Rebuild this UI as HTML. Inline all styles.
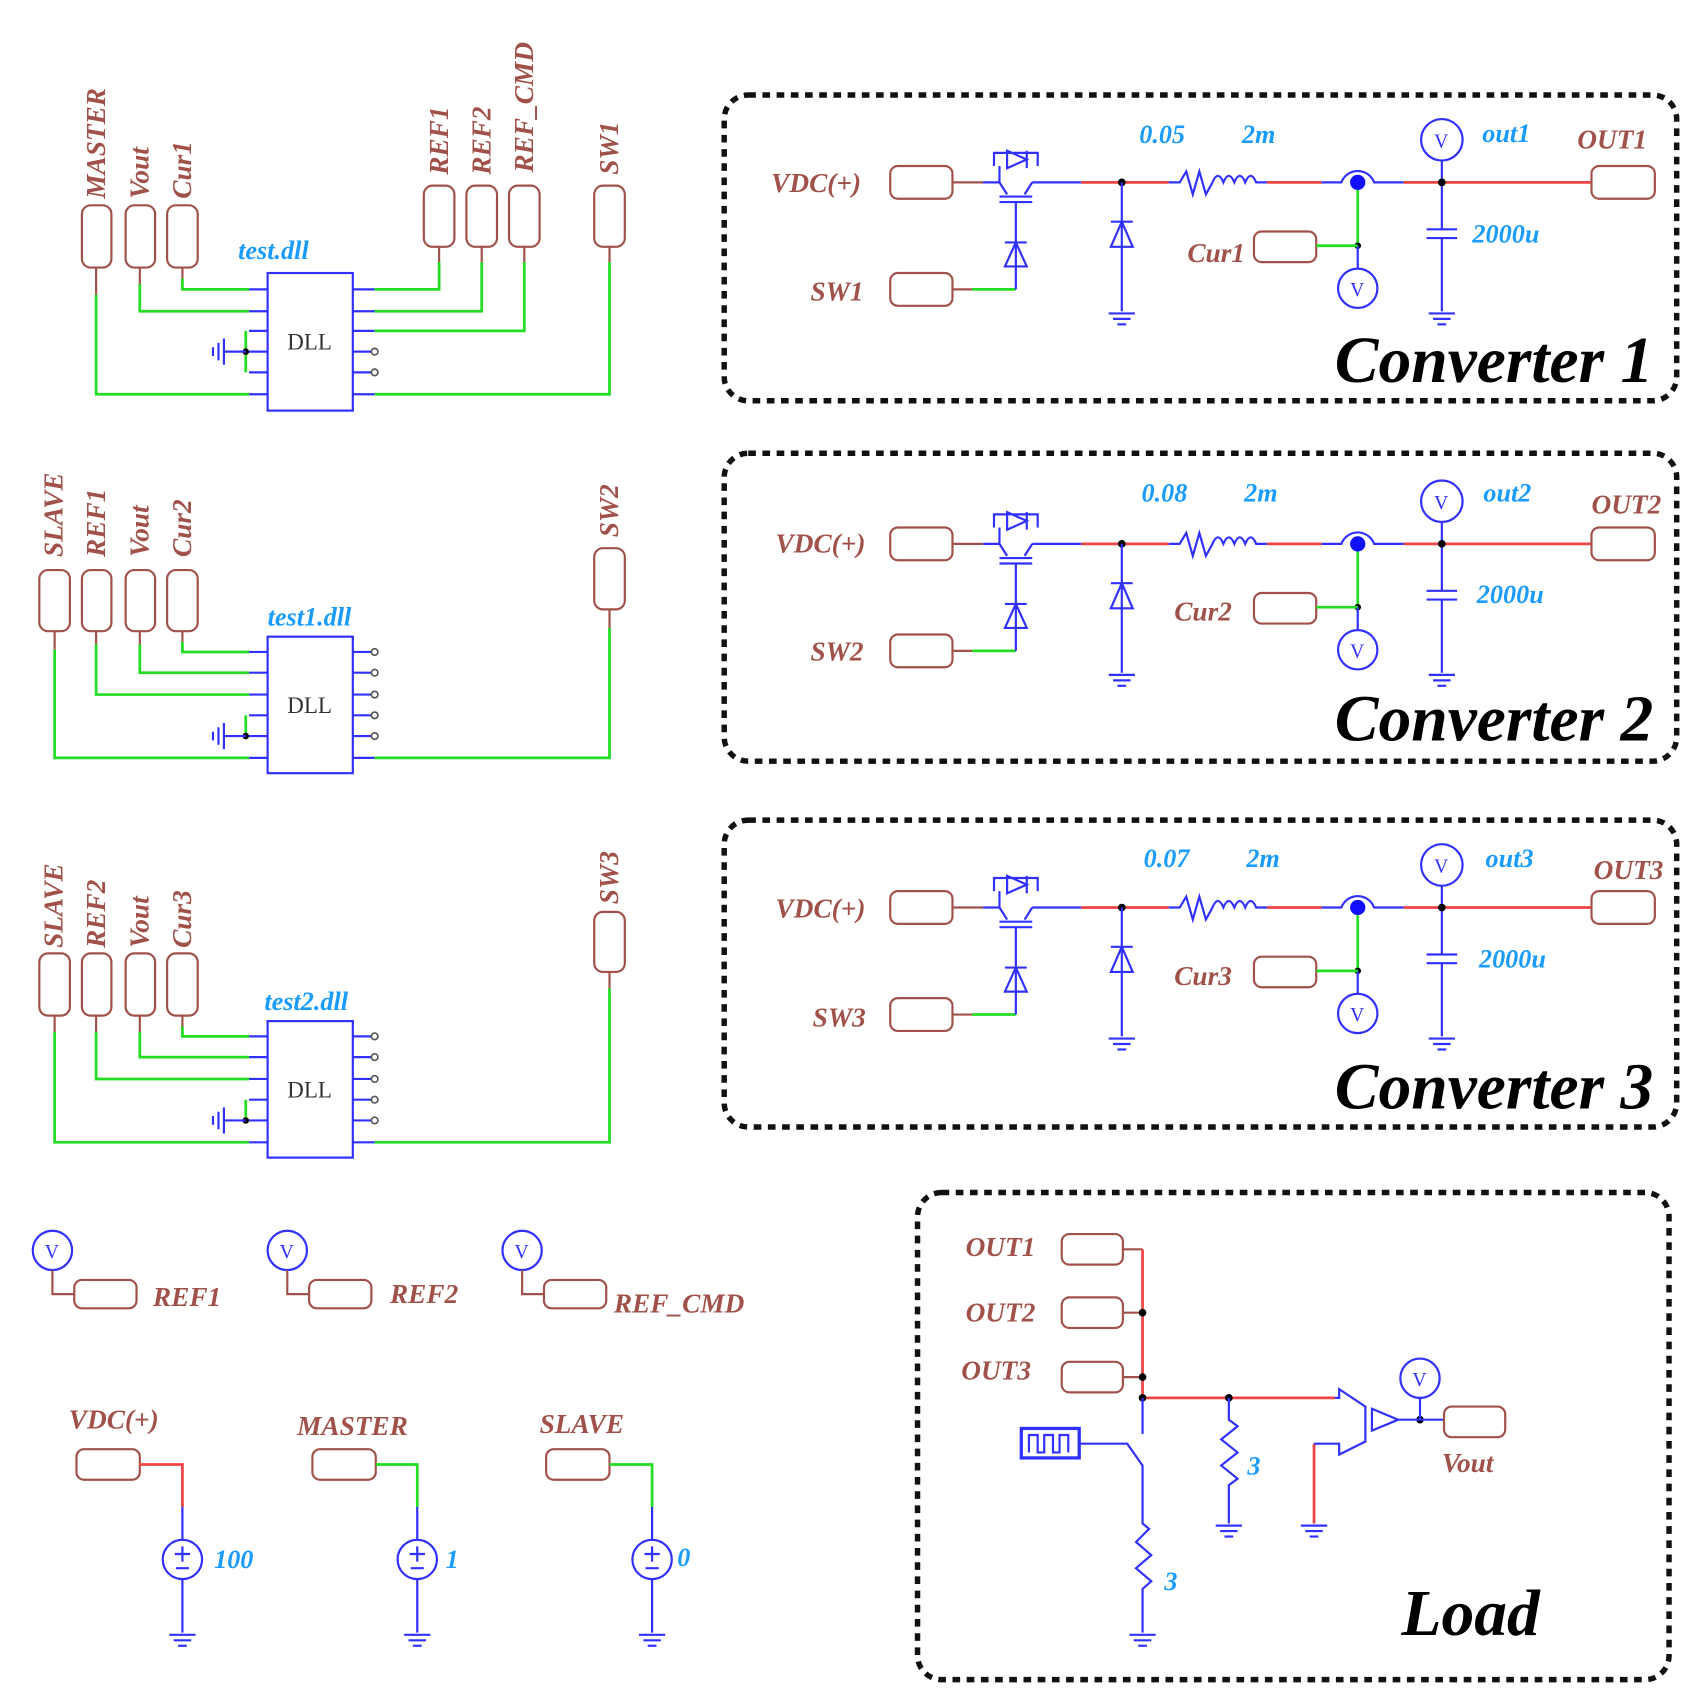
<!DOCTYPE html>
<html><head><meta charset="utf-8"><style>
html,body{margin:0;padding:0;background:#fff;}
svg{display:block;}
.lb{font-family:"Liberation Serif",serif;font-weight:bold;font-style:italic;fill:#a0524a;font-size:25px;}
.cy{font-family:"Liberation Serif",serif;font-weight:bold;font-style:italic;fill:#1a9cff;font-size:24px;}
.big{font-family:"Liberation Serif",serif;font-weight:bold;font-style:italic;fill:#000;font-size:60px;}
.pb{fill:#fff;stroke:#a0524a;stroke-width:2;}
.bl{stroke:#3030ff;stroke-width:2;fill:none;}
.gr{stroke:#22dd22;stroke-width:2.5;fill:none;}
.rd{stroke:#ee4444;stroke-width:2.5;fill:none;}
.br{stroke:#a0524a;stroke-width:2;fill:none;}
.vt{font-family:"Liberation Serif",serif;fill:#3030ff;font-size:18px;}
.dll{font-family:"Liberation Serif",serif;fill:#333;font-size:21px;}
.dash{fill:none;stroke:#111;stroke-width:5;stroke-dasharray:7,6;}
</style></head><body>
<svg width="1704" height="1708" viewBox="0 0 1560 1564" preserveAspectRatio="none" xmlns="http://www.w3.org/2000/svg">
<defs>
<g id="gnd" class="bl"><line x1="-12" y1="0" x2="12" y2="0"/><line x1="-8" y1="5" x2="8" y2="5"/><line x1="-4" y1="10" x2="4" y2="10"/></g>
<g id="gndL" class="bl"><line x1="0" y1="-12" x2="0" y2="12"/><line x1="-5" y1="-8" x2="-5" y2="8"/><line x1="-10" y1="-4" x2="-10" y2="4"/></g>
<g id="conv">
  <rect class="pb" x="815" y="152" width="57" height="30" rx="7"/>
  <rect class="pb" x="815" y="250" width="57" height="30" rx="7"/>
  <line class="br" x1="872" y1="167" x2="900" y2="167"/>
  <line class="br" x1="872" y1="265" x2="890" y2="265"/>
  <line class="gr" x1="890" y1="265" x2="930" y2="265"/>
  <path class="bl" d="M900 167 H915 V152 M915 167 L922 178 M945 167 L938 178 M945 167 H990 M915 180 H945 M915 185 H945 M930 185 V265 M910 152 V140 H950 V152 M922 138 L940 146 L922 154 Z M940 138 V154"/>
  <path class="bl" d="M930 222 L920 244 H940 Z M920 222 H940"/>
  <line class="rd" x1="990" y1="167" x2="1070" y2="167"/>
  <circle cx="1027" cy="167" r="3.5" fill="#000"/>
  <path class="bl" d="M1027 167 V285 M1017 203 H1037 M1027 203 L1017 226 H1037 Z"/>
  <use href="#gnd" x="1027" y="287"/>
  <path class="bl" d="M1070 167 H1080 L1086 157 L1092 178 L1098 157 L1104 178 L1110 167 Q1115 155 1120 167 Q1125 155 1130 167 Q1135 155 1140 167 Q1145 155 1150 167 H1160"/>
  <line class="rd" x1="1160" y1="167" x2="1210" y2="167"/>
  <path class="bl" d="M1210 167 H1228 A16 16 0 0 1 1258 167 H1285"/>
  <circle cx="1243" cy="167" r="7" fill="#1010ff"/>
  <line class="rd" x1="1285" y1="167" x2="1457" y2="167"/>
  <line class="gr" x1="1243" y1="174" x2="1243" y2="225"/>
  <circle cx="1243" cy="225" r="3" fill="#000"/>
  <line class="bl" x1="1243" y1="225" x2="1243" y2="246"/>
  <circle class="bl" cx="1243" cy="264" r="18"/>
  <text class="vt" x="1236" y="271">V</text>
  <rect class="pb" x="1148" y="212" width="57" height="28" rx="7"/>
  <line class="gr" x1="1205" y1="225" x2="1243" y2="225"/>
  <circle class="bl" cx="1320" cy="128" r="19"/>
  <text class="vt" x="1313" y="135">V</text>
  <path class="bl" d="M1320 147 V167 M1320 167 V210 M1306 210 H1334 M1306 218 H1334 M1320 218 V285"/>
  <circle cx="1320" cy="167" r="3.5" fill="#000"/>
  <use href="#gnd" x="1320" y="287"/>
  <rect class="pb" x="1457" y="152" width="58" height="30" rx="7"/>
</g>
<g id="src"><circle class="bl" cx="0" cy="0" r="18"/><path class="bl" d="M-7 -5 H7 M0 -12 V2 M-6 8 H6"/></g>
<g id="vm"><circle class="bl" cx="0" cy="0" r="18"/><text class="vt" x="-7" y="7">V</text></g>
</defs>

<rect class="pb" x="75" y="188" width="27" height="57" rx="8"/>
<rect class="pb" x="115" y="188" width="27" height="57" rx="8"/>
<rect class="pb" x="153" y="188" width="28" height="57" rx="8"/>
<rect class="pb" x="388" y="170" width="28" height="56" rx="8"/>
<rect class="pb" x="427" y="170" width="28" height="56" rx="8"/>
<rect class="pb" x="466" y="170" width="28" height="56" rx="8"/>
<rect class="pb" x="544" y="170" width="28" height="56" rx="8"/>
<text class="lb" transform="translate(96,182) rotate(-90)">MASTER</text>
<text class="lb" transform="translate(136,182) rotate(-90)">Vout</text>
<text class="lb" transform="translate(175,182) rotate(-90)">Cur1</text>
<text class="lb" transform="translate(410,160) rotate(-90)">REF1</text>
<text class="lb" transform="translate(449,160) rotate(-90)">REF2</text>
<text class="lb" transform="translate(488,158) rotate(-90)">REF_CMD</text>
<text class="lb" transform="translate(566,160) rotate(-90)">SW1</text>
<text class="cy" x="218" y="237">test.dll</text>
<rect x="245" y="250" width="78" height="126" fill="#fff" stroke="#3030ff" stroke-width="2"/>
<text class="dll" x="263" y="320">DLL</text>
<path class="bl" d="M228 265H245M228 285H245M228 303H245M228 322H245M228 341H245M228 361H245M323 265H343M323 285H343M323 303H343M323 322H340M323 341H340M323 361H343"/>
<circle cx="343" cy="322" r="3" fill="none" stroke="#555" stroke-width="1.5"/><circle cx="343" cy="341" r="3" fill="none" stroke="#555" stroke-width="1.5"/>
<path class="br" d="M88 245V270M128 245V260M167 245V255M402 226V240M441 226V240M480 226V240M558 226V240"/>
<path class="gr" d="M167 255V265H228M128 260V285H228M88 270V361H228M402 240V265H343M441 240V285H343M480 240V303H343M558 240V361H343M225 303V341"/>
<circle cx="225" cy="322" r="3" fill="#000"/>
<line class="bl" x1="205" y1="322" x2="225" y2="322"/>
<use href="#gndL" x="205" y="322"/>

<rect class="pb" x="36" y="522" width="28" height="56" rx="8"/>
<rect class="pb" x="75" y="522" width="27" height="56" rx="8"/>
<rect class="pb" x="115" y="522" width="27" height="56" rx="8"/>
<rect class="pb" x="153" y="522" width="28" height="56" rx="8"/>
<rect class="pb" x="544" y="502" width="28" height="56" rx="8"/>
<text class="lb" transform="translate(57,510) rotate(-90)">SLAVE</text>
<text class="lb" transform="translate(96,510) rotate(-90)">REF1</text>
<text class="lb" transform="translate(136,510) rotate(-90)">Vout</text>
<text class="lb" transform="translate(175,510) rotate(-90)">Cur2</text>
<text class="lb" transform="translate(566,492) rotate(-90)">SW2</text>
<text class="cy" x="245" y="573">test1.dll</text>
<rect x="245" y="583" width="78" height="125" fill="#fff" stroke="#3030ff" stroke-width="2"/>
<text class="dll" x="263" y="653">DLL</text>
<path class="bl" d="M228 597H245M228 616H245M228 636H245M228 655H245M228 674H245M228 694H245M323 597H340M323 616H340M323 636H340M323 655H340M323 674H340M323 694H343"/>
<g fill="none" stroke="#555" stroke-width="1.5"><circle cx="343" cy="597" r="3"/><circle cx="343" cy="616" r="3"/><circle cx="343" cy="636" r="3"/><circle cx="343" cy="655" r="3"/><circle cx="343" cy="674" r="3"/></g>
<path class="br" d="M50 578V595M88 578V590M128 578V590M167 578V588M558 558V575"/>
<path class="gr" d="M167 588V597H228M128 590V616H228M88 590V636H228M50 595V694H228M558 575V694H343M225 655V674"/>
<circle cx="225" cy="674" r="3" fill="#000"/>
<line class="bl" x1="205" y1="674" x2="225" y2="674"/>
<use href="#gndL" x="205" y="674"/>

<rect class="pb" x="36" y="873" width="28" height="57" rx="8"/>
<rect class="pb" x="75" y="873" width="27" height="57" rx="8"/>
<rect class="pb" x="115" y="873" width="27" height="57" rx="8"/>
<rect class="pb" x="153" y="873" width="28" height="57" rx="8"/>
<rect class="pb" x="544" y="835" width="28" height="55" rx="8"/>
<text class="lb" transform="translate(57,868) rotate(-90)">SLAVE</text>
<text class="lb" transform="translate(96,868) rotate(-90)">REF2</text>
<text class="lb" transform="translate(136,868) rotate(-90)">Vout</text>
<text class="lb" transform="translate(175,868) rotate(-90)">Cur3</text>
<text class="lb" transform="translate(566,828) rotate(-90)">SW3</text>
<text class="cy" x="242" y="925">test2.dll</text>
<rect x="245" y="935" width="78" height="125" fill="#fff" stroke="#3030ff" stroke-width="2"/>
<text class="dll" x="263" y="1005">DLL</text>
<path class="bl" d="M228 949H245M228 968H245M228 988H245M228 1007H245M228 1026H245M228 1046H245M323 949H340M323 968H340M323 988H340M323 1007H340M323 1026H340M323 1046H343"/>
<g fill="none" stroke="#555" stroke-width="1.5"><circle cx="343" cy="949" r="3"/><circle cx="343" cy="968" r="3"/><circle cx="343" cy="988" r="3"/><circle cx="343" cy="1007" r="3"/><circle cx="343" cy="1026" r="3"/></g>
<path class="br" d="M50 930V945M88 930V945M128 930V945M167 930V940M558 890V905"/>
<path class="gr" d="M167 940V949H228M128 945V968H228M88 945V988H228M50 945V1046H228M558 905V1046H343M225 1007V1026"/>
<circle cx="225" cy="1026" r="3" fill="#000"/>
<line class="bl" x1="205" y1="1026" x2="225" y2="1026"/>
<use href="#gndL" x="205" y="1026"/>

<rect class="dash" x="663" y="87" width="872" height="280" rx="22"/>
<rect class="dash" x="663" y="415" width="872" height="282" rx="22"/>
<rect class="dash" x="663" y="751" width="872" height="281" rx="22"/>
<use href="#conv"/>
<use href="#conv" y="331"/>
<use href="#conv" y="664"/>
<text class="lb" x="706" y="176">VDC(+)</text><text class="lb" x="742" y="275">SW1</text>
<text class="cy" x="1043" y="131">0.05</text><text class="cy" x="1137" y="131">2m</text>
<text class="lb" x="1087" y="240">Cur1</text>
<text class="cy" x="1357" y="130">out1</text><text class="lb" x="1444" y="136">OUT1</text>
<text class="cy" x="1348" y="222">2000u</text>
<text class="big" x="1222" y="350">Converter 1</text>

<text class="lb" x="710" y="506">VDC(+)</text><text class="lb" x="742" y="605">SW2</text>
<text class="cy" x="1045" y="459">0.08</text><text class="cy" x="1139" y="459">2m</text>
<text class="lb" x="1075" y="568">Cur2</text>
<text class="cy" x="1358" y="459">out2</text><text class="lb" x="1457" y="470">OUT2</text>
<text class="cy" x="1352" y="552">2000u</text>
<text class="big" x="1222" y="678">Converter 2</text>

<text class="lb" x="710" y="840">VDC(+)</text><text class="lb" x="744" y="940">SW3</text>
<text class="cy" x="1047" y="794">0.07</text><text class="cy" x="1141" y="794">2m</text>
<text class="lb" x="1075" y="902">Cur3</text>
<text class="cy" x="1360" y="794">out3</text><text class="lb" x="1459" y="805">OUT3</text>
<text class="cy" x="1354" y="886">2000u</text>
<text class="big" x="1222" y="1015">Converter 3</text>

<rect class="dash" x="840" y="1092" width="688" height="446" rx="22"/>
<text class="lb" x="884" y="1150">OUT1</text>
<text class="lb" x="884" y="1210">OUT2</text>
<text class="lb" x="880" y="1263">OUT3</text>
<rect class="pb" x="972" y="1130" width="56" height="28" rx="7"/>
<rect class="pb" x="972" y="1188" width="56" height="28" rx="7"/>
<rect class="pb" x="972" y="1247" width="56" height="28" rx="7"/>
<path class="br" d="M1028 1144H1046M1028 1202H1046M1028 1261H1046"/>
<path class="rd" d="M1046 1144V1280H1222M1203 1322V1395"/>
<g fill="#000"><circle cx="1046" cy="1202" r="3.5"/><circle cx="1046" cy="1261" r="3.5"/><circle cx="1046" cy="1280" r="3.5"/><circle cx="1125" cy="1280" r="3.5"/><circle cx="1300" cy="1300" r="3.5"/></g>
<path class="bl" d="M1046 1280V1313M988 1322H1032L1046 1342V1395L1052 1400L1040 1412L1054 1424L1040 1436L1054 1448L1046 1455V1495"/>
<use href="#gnd" x="1046" y="1497"/>
<rect x="935" y="1308" width="53" height="27" fill="#fff" stroke="#3030ff" stroke-width="3"/>
<path class="bl" d="M942 1330V1314H950V1330H956V1314H964V1330H970V1314H978V1330"/>
<path class="bl" d="M1125 1280V1300L1133 1306L1118 1318L1133 1330L1118 1342L1133 1354L1125 1360V1395"/>
<use href="#gnd" x="1125" y="1397"/>
<path class="bl" d="M1222 1280H1226V1272L1250 1288V1320L1226 1332V1322H1203"/>
<use href="#gnd" x="1203" y="1397"/>
<path class="bl" d="M1256 1290L1280 1300L1256 1310Z M1280 1300H1322 M1300 1300V1280"/>
<use href="#vm" x="1300" y="1262"/>
<rect class="pb" x="1322" y="1288" width="56" height="28" rx="7"/>
<text class="lb" x="1320" y="1348">Vout</text>
<text class="cy" x="1142" y="1350">3</text>
<text class="cy" x="1066" y="1456">3</text>
<text class="big" x="1283" y="1497">Load</text>

<use href="#vm" x="48" y="1145"/><path class="br" d="M48 1163V1185H68"/>
<rect class="pb" x="68" y="1172" width="57" height="26" rx="7"/>
<text class="lb" x="140" y="1196">REF1</text>
<use href="#vm" x="263" y="1145"/><path class="br" d="M263 1163V1185H283"/>
<rect class="pb" x="283" y="1172" width="57" height="26" rx="7"/>
<text class="lb" x="357" y="1193">REF2</text>
<use href="#vm" x="478" y="1145"/><path class="br" d="M478 1163V1185H498"/>
<rect class="pb" x="498" y="1172" width="57" height="26" rx="7"/>
<text class="lb" x="562" y="1202">REF_CMD</text>

<text class="lb" x="63" y="1308">VDC(+)</text>
<rect class="pb" x="70" y="1327" width="58" height="28" rx="7"/>
<path class="rd" d="M128 1341H167V1380"/><path class="bl" d="M167 1380V1410M167 1446V1495"/>
<use href="#src" x="167" y="1428"/><use href="#gnd" x="167" y="1497"/>
<text class="cy" x="196" y="1436">100</text>

<text class="lb" x="272" y="1314">MASTER</text>
<rect class="pb" x="286" y="1327" width="58" height="28" rx="7"/>
<path class="gr" d="M344 1341H382V1380"/><path class="bl" d="M382 1380V1410M382 1446V1495"/>
<use href="#src" x="382" y="1428"/><use href="#gnd" x="382" y="1497"/>
<text class="cy" x="408" y="1436">1</text>

<text class="lb" x="494" y="1312">SLAVE</text>
<rect class="pb" x="500" y="1327" width="58" height="28" rx="7"/>
<path class="gr" d="M558 1341H597V1380"/><path class="bl" d="M597 1380V1410M597 1446V1495"/>
<use href="#src" x="597" y="1428"/><use href="#gnd" x="597" y="1497"/>
<text class="cy" x="620" y="1434">0</text>
</svg>
</body></html>
